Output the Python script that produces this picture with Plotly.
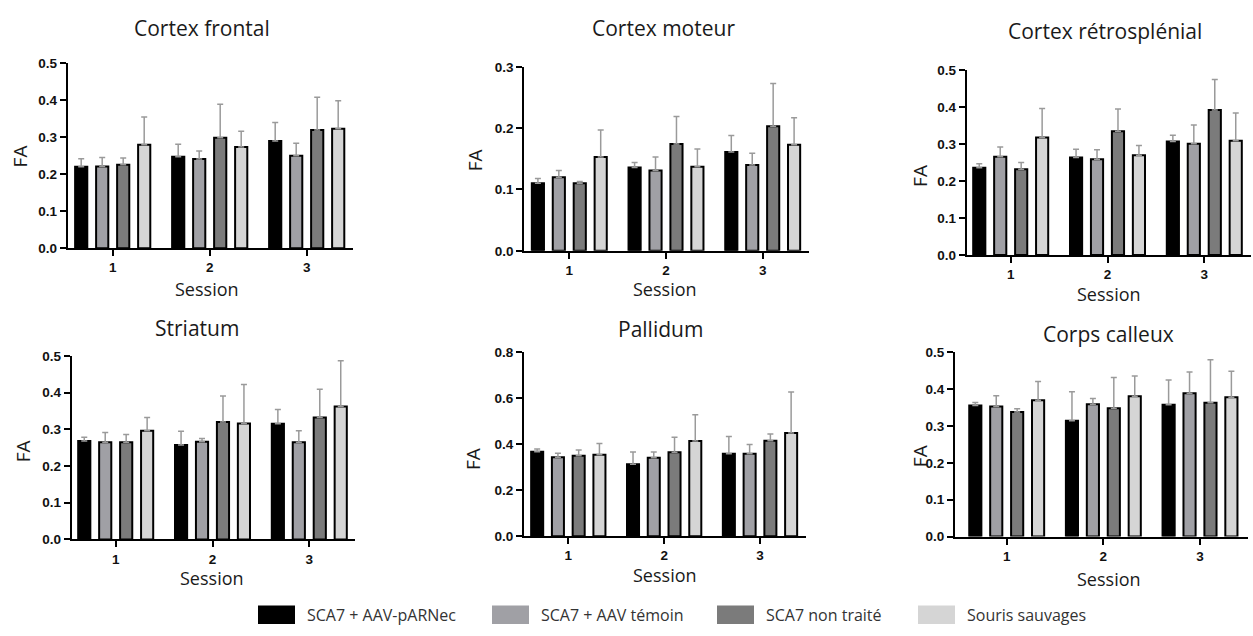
import plotly.graph_objects as go

W, H = 1253, 636

regions = ["Cortex frontal", "Cortex moteur", "Cortex rétrosplénial",
           "Striatum", "Pallidum", "Corps calleux"]
groups = ["SCA7 + AAV-pARNec", "SCA7 + AAV témoin", "SCA7 non traité", "Souris sauvages"]
sessions = [1, 2, 3]
y_axis_title = "FA"
x_axis_title = "Session"

# mean FA per group (rows) and session (columns)
frontal_mean = [[0.220, 0.247, 0.290], [0.221, 0.241, 0.250], [0.226, 0.299, 0.320], [0.280, 0.274, 0.323]]
frontal_err = [[0.022, 0.034, 0.050], [0.024, 0.022, 0.034], [0.018, 0.090, 0.088], [0.075, 0.042, 0.076]]

moteur_mean = [[0.110, 0.136, 0.161], [0.120, 0.131, 0.140], [0.110, 0.174, 0.203], [0.153, 0.137, 0.173]]
moteur_err = [[0.008, 0.008, 0.027], [0.011, 0.022, 0.019], [0.003, 0.045, 0.070], [0.044, 0.029, 0.044]]

retro_mean = [[0.236, 0.264, 0.307], [0.266, 0.259, 0.301], [0.232, 0.335, 0.392], [0.318, 0.270, 0.309]]
retro_err = [[0.011, 0.022, 0.017], [0.026, 0.026, 0.051], [0.018, 0.060, 0.083], [0.078, 0.026, 0.075]]

striatum_mean = [[0.268, 0.257, 0.315], [0.265, 0.266, 0.265], [0.265, 0.320, 0.332], [0.296, 0.316, 0.362]]
striatum_err = [[0.010, 0.038, 0.039], [0.026, 0.009, 0.031], [0.021, 0.071, 0.077], [0.036, 0.106, 0.125]]

pallidum_mean = [[0.368, 0.313, 0.359], [0.344, 0.341, 0.359], [0.350, 0.365, 0.415], [0.355, 0.414, 0.449]]
pallidum_err = [[0.012, 0.053, 0.075], [0.017, 0.025, 0.040], [0.025, 0.066, 0.030], [0.048, 0.115, 0.179]]

calleux_mean = [[0.356, 0.314, 0.358], [0.353, 0.359, 0.389], [0.338, 0.348, 0.363], [0.370, 0.381, 0.378]]
calleux_err = [[0.008, 0.079, 0.067], [0.029, 0.016, 0.058], [0.009, 0.084, 0.117], [0.051, 0.055, 0.071]]

y_max = [0.5, 0.3, 0.5, 0.5, 0.8, 0.5]
y_step = [0.1, 0.1, 0.1, 0.1, 0.2, 0.1]

means = [frontal_mean, moteur_mean, retro_mean, striatum_mean, pallidum_mean, calleux_mean]
errs = [frontal_err, moteur_err, retro_err, striatum_err, pallidum_err, calleux_err]

colors = ["#000000", "#a0a0a5", "#7b7b7b", "#d5d5d5"]
err_color = "#9a9a9a"

# panel geometry in pixels: left, right, tick1, tick3, top, bottom
panels = [
    (67.7, 352.7, 112.7, 306.7, 57.7, 247.0),
    (524.3, 809.0, 569.3, 762.7, 61.3, 249.7),
    (966.7, 1250.7, 1010.7, 1204.3, 64.7, 254.0),
    (71.7, 355.0, 115.7, 309.3, 357.3, 545.3),
    (524.0, 806.0, 568.3, 760.0, 353.7, 542.0),
    (955.0, 1248.0, 1006.7, 1200.0, 353.7, 542.3),
]
title_pos = [(201.7, 22), (663, 22), (1105, 25), (197, 329), (660.7, 330), (1108, 335)]
xtitle_pos = [(207, 289), (665, 289), (1109, 294), (212, 585), (665, 582), (1109, 586)]
ytitle_pos = [(20, 153), (475, 157), (920, 173), (23, 455), (473, 463), (920, 460)]

fig = go.Figure()
annotations = []
shapes = []
tick_font = dict(family="Liberation Sans, Arial", size=13.5, color="#111111")
text_font = "Open Sans, DejaVu Sans"

for p in range(6):
    xa = "x" if p == 0 else f"x{p+1}"
    ya = "y" if p == 0 else f"y{p+1}"
    for g in range(4):
        fig.add_trace(go.Bar(
            x=sessions, y=means[p][g], name=groups[g],
            xaxis=xa, yaxis=ya, offsetgroup=str(g),
            marker=dict(color=colors[g], line=dict(color="#000000", width=2)),
            error_y=dict(type="data", symmetric=False, array=errs[p][g],
                         arrayminus=[0, 0, 0], color=err_color, thickness=1.5, width=3),
            showlegend=False,
        ))
    left, right, t1, t3, top, bottom = panels[p]
    sp = (t3 - t1) / 2
    xr = [1 - (t1 - left) / sp, 3 + (right - t3) / sp]
    n_ticks = int(round(y_max[p] / y_step[p])) + 1
    yticks = [round(i * y_step[p], 2) for i in range(n_ticks)]
    xkey = "xaxis" if p == 0 else f"xaxis{p+1}"
    ykey = "yaxis" if p == 0 else f"yaxis{p+1}"
    fig.update_layout({
        xkey: dict(domain=[left / W, right / W], range=xr, anchor=ya,
                   tickvals=sessions, ticktext=[f"<b>{s}</b>" for s in sessions],
                   showline=True, linecolor="#000000", linewidth=2,
                   ticks="outside", ticklen=6, tickwidth=2, tickcolor="#000000",
                   showgrid=False, zeroline=False, tickfont=tick_font, fixedrange=True),
        ykey: dict(domain=[1 - bottom / H, 1 - top / H], range=[0, y_max[p]], anchor=xa,
                   tickvals=yticks, ticktext=[f"<b>{v:.1f}</b>" for v in yticks],
                   showline=True, linecolor="#000000", linewidth=2,
                   ticks="outside", ticklen=6, tickwidth=2, tickcolor="#000000",
                   showgrid=False, zeroline=False, tickfont=tick_font, fixedrange=True),
    })
    tx, ty = title_pos[p]
    annotations.append(dict(text=regions[p], x=tx / W, y=1 - ty / H, xref="paper", yref="paper",
                            xanchor="center", yanchor="middle", showarrow=False,
                            font=dict(family=text_font, size=21, color="#1a1a1a")))
    sx, sy = xtitle_pos[p]
    annotations.append(dict(text=x_axis_title, x=sx / W, y=1 - sy / H, xref="paper", yref="paper",
                            xanchor="center", yanchor="middle", showarrow=False,
                            font=dict(family=text_font, size=18, color="#1a1a1a")))
    fx, fy = ytitle_pos[p]
    annotations.append(dict(text=y_axis_title, x=fx / W, y=1 - fy / H, xref="paper", yref="paper",
                            xanchor="center", yanchor="middle", showarrow=False, textangle=-90,
                            font=dict(family=text_font, size=19, color="#1a1a1a")))

# legend (boxes + labels) at the bottom
legend_box_x = [258, 492, 717, 918]
box_w, box_top, box_bot = 37, 613, 632
for g in range(4):
    x0 = legend_box_x[g]
    shapes.append(dict(type="rect", xref="paper", yref="paper",
                       x0=x0 / W, x1=(x0 + box_w) / W, y0=1 - box_bot / H, y1=1 - box_top / H,
                       fillcolor=colors[g], line=dict(width=0)))
    annotations.append(dict(text=groups[g], x=(x0 + box_w + 10) / W, y=1 - 622.5 / H,
                            xref="paper", yref="paper", xanchor="left", yanchor="middle",
                            showarrow=False,
                            font=dict(family=text_font, size=16, color="#333333")))

fig.update_layout(
    width=W, height=H, margin=dict(l=0, r=0, t=0, b=0),
    paper_bgcolor="#ffffff", plot_bgcolor="#ffffff",
    barmode="group", bargap=0.134, bargroupgap=0.42,
    annotations=annotations, shapes=shapes, showlegend=False,
)

fig.write_html("out.html", config={"displayModeBar": False},
               post_script="document.body.style.margin='0';document.body.style.overflow='hidden';")
